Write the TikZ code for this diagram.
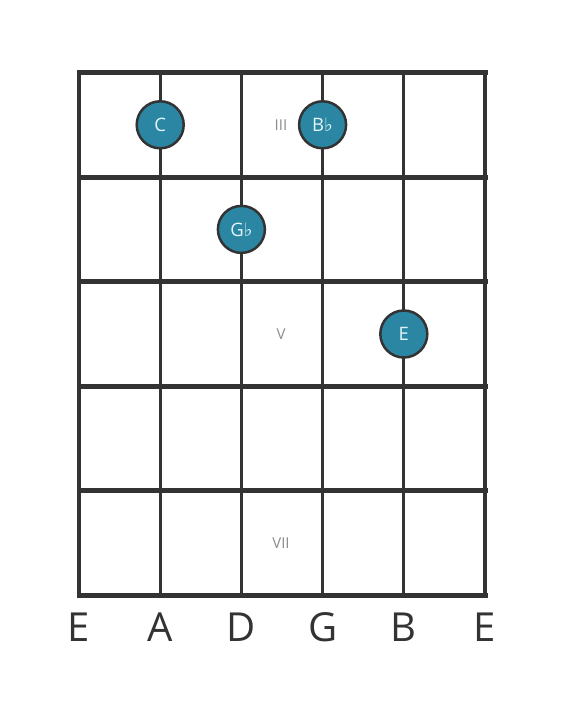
\documentclass[tikz,border=0pt]{standalone}
\usepackage{fontspec}
\setmainfont{Open Sans}
\newfontfamily\symfont{DejaVu Sans}
\usetikzlibrary{positioning}

\definecolor{linegray}{HTML}{333333}
\definecolor{dotblue}{HTML}{2A86A2}
\definecolor{dottext}{HTML}{E2F5FB}
\definecolor{fretgray}{HTML}{8C8C8C}

\begin{document}
\begin{tikzpicture}[x=1pt, y=-1pt,
    note/.style={draw=linegray, line width=2.5pt, circle, fill=dotblue, minimum size=47pt,
      inner sep=0pt, text=dottext, font=\fontsize{18.5}{18.5}\selectfont},
    fretnum/.style={text=fretgray, font=\fontsize{15}{15}\selectfont},
    strname/.style={text=linegray, anchor=base, font=\fontsize{40}{40}\selectfont},
    fretline/.style={draw=linegray, line width=5pt, line cap=rect},
    stringline/.style={draw=linegray, line width=3pt}]
		\useasboundingbox (0,0) rectangle (566,711);
		
		% strings
		\foreach \i/\x in {1/79, 2/160.2, 3/241.4, 4/322.6, 5/403.8, 6/485} {
			\coordinate (s\i t) at (\x,72.5);
			\coordinate (s\i b) at (\x,595.5);
		}
		\draw[stringline, line width=3.5pt] (s1t) -- (s1b);
		\foreach \i in {2,...,5} \draw[stringline] (s\i t) -- (s\i b);
		\draw[stringline, line width=3.5pt] (s6t) -- (s6b);
		
		% frets
		\foreach \j/\y in {0/72.5, 1/177.1, 2/281.7, 3/386.3, 4/490.9, 5/595.5} {
			\coordinate (f\j l) at (79,\y);
			\coordinate (f\j r) at (485,\y);
			\draw[fretline] (f\j l) -- (f\j r);
		}
		
		% fret numbers
		\node[fretnum] (III) at (281,124.8) {III};
		\node[fretnum] (V) at (281,334) {V};
		\node[fretnum] (VII) at (281,543.2) {VII};
		
		% notes
		\node[note] (C) at (160.2,124.8) {C};
		\node[note] (Bb) at (322.6,124.8) {B{\symfont ♭}};
		\node[note] (Gb) at (241.4,229.4) {G{\symfont ♭}};
		\node[note] (E) at (403.8,334) {E};
		
		% string names
		\node[strname] (n1) at (79,641) {E};
		\node[strname] (n2) at (160.2,641) {A};
		\node[strname] (n3) at (241.4,641) {D};
		\node[strname] (n4) at (322.6,641) {G};
		\node[strname] (n5) at (403.8,641) {B};
		\node[strname] (n6) at (485,641) {E};
	\end{tikzpicture}
\end{document}
